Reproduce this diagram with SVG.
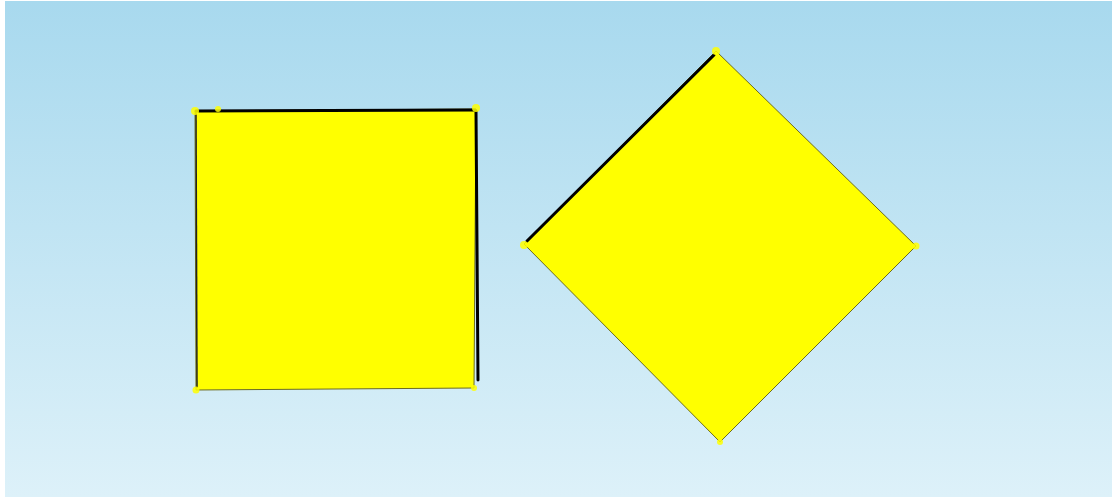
<svg xmlns="http://www.w3.org/2000/svg" width="1115" height="499" viewBox="0 0 1115 499">
<defs>
<linearGradient id="bg" x1="0" y1="0" x2="0" y2="1">
<stop offset="0" stop-color="#a8d9ee"/>
<stop offset="1" stop-color="#ddf1f9"/>
</linearGradient>
<style>
.shape{fill:#ffff00;stroke:#6b6b20;stroke-width:1}
.edge{stroke:#000;stroke-width:3;stroke-linecap:round;fill:none}
.dot{fill:#ffff00;opacity:0.85}
</style>
</defs>
<rect x="0" y="0" width="1115" height="499" fill="#fff"/>
<rect x="5" y="1" width="1107" height="496" fill="url(#bg)"/>
<g id="square">
<polygon class="shape" points="195,111 476,109 474,388 196,390"/>
<line class="edge" x1="196" y1="111" x2="475" y2="110"/>
<line class="edge" x1="476" y1="111" x2="478" y2="380"/>
<line stroke="#222" stroke-width="1.5" x1="196" y1="112" x2="197" y2="388"/>
<circle class="dot" cx="195" cy="111" r="4"/>
<circle class="dot" cx="218" cy="109" r="3"/>
<circle class="dot" cx="476" cy="108" r="4"/>
<circle class="dot" cx="474" cy="388" r="3"/>
<circle class="dot" cx="196" cy="390" r="3.5"/>
</g>
<g id="diamond">
<polygon class="shape" points="716,51 916,246 720,442 524,244"/>
<line class="edge" stroke-width="4" x1="527" y1="241" x2="714" y2="55"/>
<circle class="dot" cx="716" cy="51" r="4"/>
<circle class="dot" cx="916" cy="246" r="3.5"/>
<circle class="dot" cx="720" cy="442" r="3"/>
<circle class="dot" cx="524" cy="245" r="4"/>
</g>
</svg>
